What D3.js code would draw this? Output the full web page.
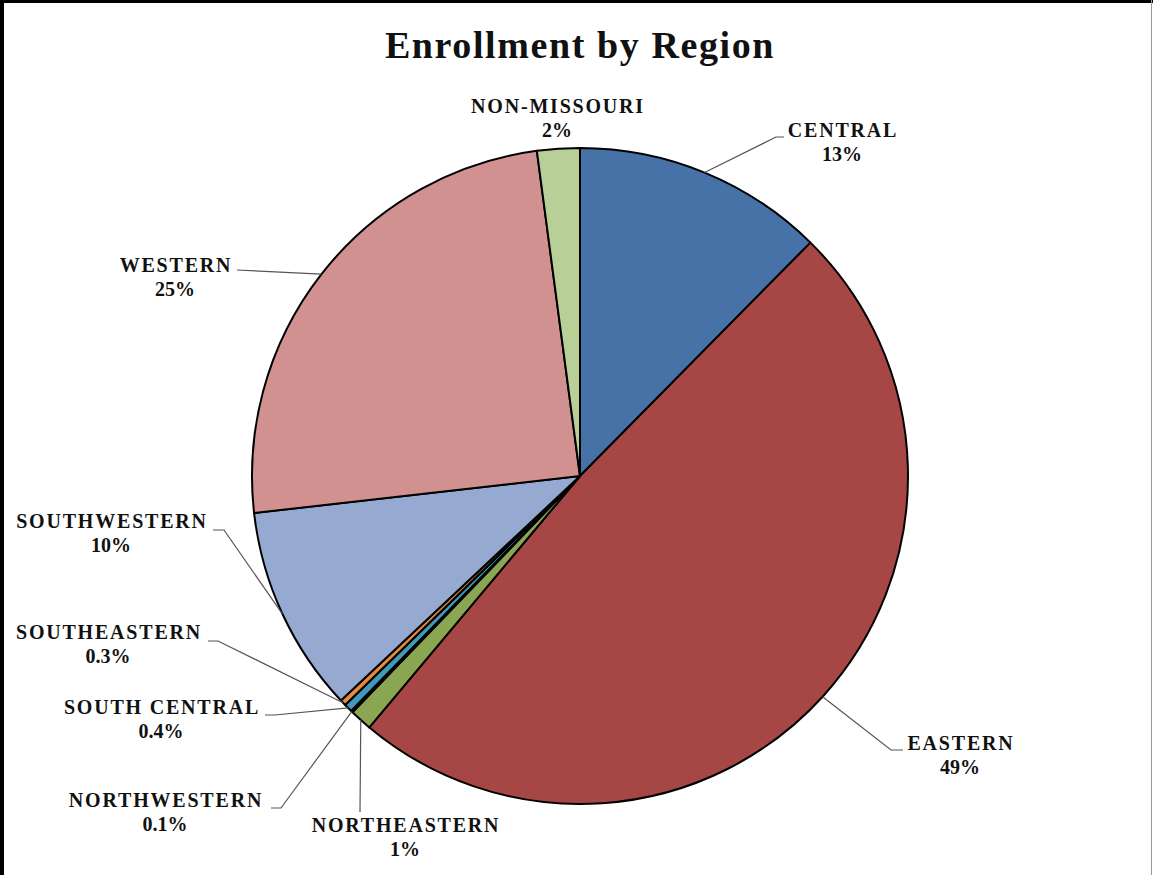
<!DOCTYPE html>
<html>
<head>
<meta charset="utf-8">
<script src="https://cdn.jsdelivr.net/npm/d3@7"></script>
<style>
  body { margin: 0; background: #fff; }
  svg text { font-family: "Liberation Serif", "DejaVu Serif", serif; font-weight: bold; fill: #111; }
</style>
</head>
<body>
<div id="chart"></div>
<script>
// Data
var regions = ["CENTRAL", "EASTERN", "NORTHEASTERN", "NORTHWESTERN", "SOUTH CENTRAL",
  "SOUTHEASTERN", "SOUTHWESTERN", "WESTERN", "NON-MISSOURI"];
var shares = [12.4, 48.7, 1.1, 0.1, 0.4, 0.3, 10.2, 24.7, 2.1];
var shareLabels = ["13%", "49%", "1%", "0.1%", "0.4%", "0.3%", "10%", "25%", "2%"];
var sliceColors = ["#4672a8", "#a74745", "#8aa652", "#6e5587", "#4298b5",
  "#e8883a", "#95a9d1", "#d19190", "#b8cf98"];

// Label layout (text centre x, first baseline y, leader elbow)
var labelLayout = [
  {x: 842, y: 137, elbow: [776, 137], end: 784},
  {x: 960, y: 750, elbow: [891, 750], end: 903},
  {x: 405, y: 832, elbow: [360, 812], end: null},
  {x: 165, y: 807, elbow: [281, 808], end: 271},
  {x: 161, y: 714, elbow: [275, 715], end: 265},
  {x: 108, y: 639, elbow: [218, 641], end: 208},
  {x: 111, y: 528, elbow: [224, 530], end: 213},
  {x: 175, y: 272, elbow: [237, 270], end: 237},
  {x: 557, y: 113, elbow: null, end: null}
];

var width = 1153, height = 875;
var cx = 580, cy = 476, radius = 328;

var svg = d3.select("#chart").append("svg")
  .attr("width", width)
  .attr("height", height);

svg.append("rect").attr("width", width).attr("height", height).attr("fill", "#fff");

// frame
svg.append("line").attr("x1", 2).attr("x2", 2).attr("y1", 0).attr("y2", height)
  .attr("stroke", "#000").attr("stroke-width", 4);
svg.append("line").attr("x1", 0).attr("x2", width).attr("y1", 1.5).attr("y2", 1.5)
  .attr("stroke", "#000").attr("stroke-width", 3);
svg.append("line").attr("x1", width - 1.5).attr("x2", width - 1.5).attr("y1", 0).attr("y2", height)
  .attr("stroke", "#999").attr("stroke-width", 1);

// title
svg.append("text")
  .attr("x", 580)
  .attr("y", 58)
  .attr("text-anchor", "middle")
  .style("font-size", "38px")
  .style("letter-spacing", "1.6px")
  .text("Enrollment by Region");

var data = regions.map(function(r, i) {
  return {region: r, value: shares[i], label: shareLabels[i], color: sliceColors[i], layout: labelLayout[i]};
});

var pie = d3.pie().sort(null).value(function(d) { return d.value; });
var arc = d3.arc().innerRadius(0).outerRadius(radius);

var g = svg.append("g").attr("transform", "translate(" + cx + "," + cy + ")");
var arcs = pie(data);

g.selectAll("path.slice")
  .data(arcs)
  .enter().append("path")
  .attr("class", "slice")
  .attr("d", arc)
  .attr("fill", function(d) { return d.data.color; })
  .attr("stroke", "#000")
  .attr("stroke-width", 2)
  .attr("stroke-linejoin", "round");

// leader lines
arcs.forEach(function(a) {
  var L = a.data.layout;
  if (!L.elbow) return;
  var mid = (a.startAngle + a.endAngle) / 2;
  var sx = cx + radius * Math.sin(mid),
    sy = cy - radius * Math.cos(mid);
  var pts = [[sx, sy], L.elbow];
  if (L.end !== null) pts.push([L.end, L.elbow[1]]);
  svg.append("path")
    .attr("d", d3.line()(pts))
    .attr("fill", "none")
    .attr("stroke", "#555")
    .attr("stroke-width", 1.2);
});

// labels
var labels = svg.selectAll("g.label")
  .data(arcs)
  .enter().append("g")
  .attr("class", "label");

labels.append("text")
  .attr("x", function(d) { return d.data.layout.x + 1; })
  .attr("y", function(d) { return d.data.layout.y; })
  .attr("text-anchor", "middle")
  .style("font-size", "20px")
  .style("letter-spacing", "1.8px")
  .text(function(d) { return d.data.region; });

labels.append("text")
  .attr("x", function(d) { return d.data.layout.x; })
  .attr("y", function(d) { return d.data.layout.y + 24; })
  .attr("text-anchor", "middle")
  .style("font-size", "20px")
  .text(function(d) { return d.data.label; });
</script>
</body>
</html>
